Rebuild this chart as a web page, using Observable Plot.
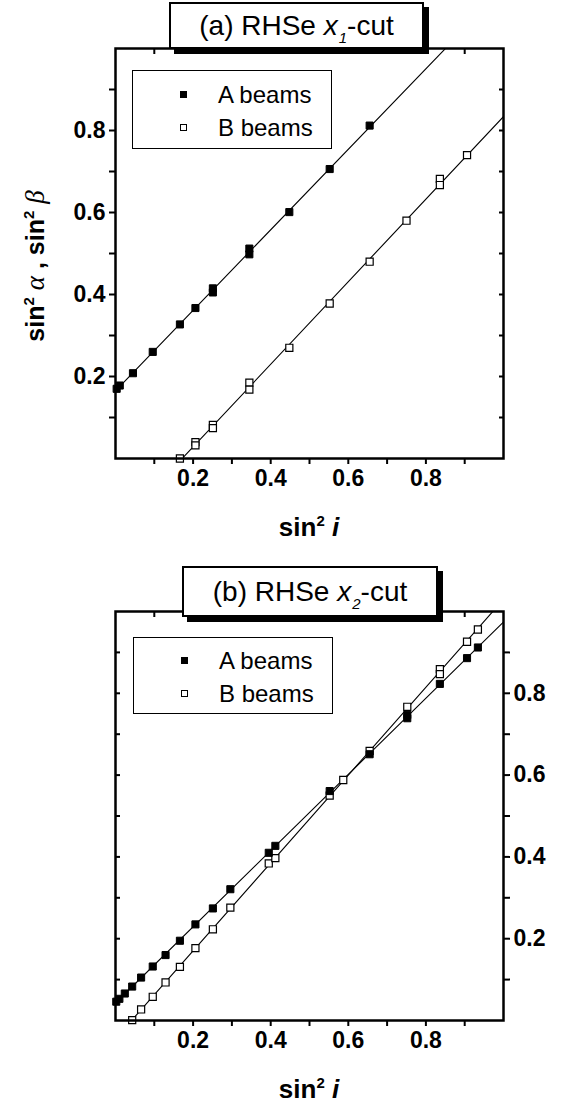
<!DOCTYPE html>
<html><head><meta charset="utf-8">
<script src="https://cdn.jsdelivr.net/npm/d3@7"></script>
<script src="https://cdn.jsdelivr.net/npm/@observablehq/plot@0.6"></script>
<style>
body{margin:0;background:#fff;}
#wrap{position:relative;width:569px;height:1104px;font-family:"Liberation Sans",Arial,sans-serif;color:#000;overflow:hidden;background:#fff}
.svgbox{position:absolute;left:0}
.title{position:absolute;background:#fff;border:2px solid #000;box-shadow:5px 5px 0 #000;font-size:28px;display:flex;align-items:center;justify-content:center;box-sizing:border-box;white-space:nowrap}
.title sub{font-size:15px;font-style:italic;vertical-align:-8px;line-height:0;margin-left:1px}
.legend{position:absolute;background:#fff;border:1.5px solid #000;box-sizing:border-box;font-size:24px}
.legend .row{position:absolute;left:0;right:0;height:30px;line-height:30px}
.legend .sym{position:absolute;left:47px;top:11px;width:7px;height:7px;box-sizing:border-box;border:1px solid #000}
.legend .txt{position:absolute;left:85px;top:0}
.ylab{position:absolute;font-size:25px;font-weight:bold;white-space:nowrap;transform:translate(-50%,-50%) rotate(-90deg)}
.ylab .g{font-family:"Liberation Serif","DejaVu Serif",serif;font-style:italic;font-weight:normal;font-size:27px}
.xlab{position:absolute;font-size:26px;font-weight:bold;white-space:nowrap;transform:translate(-50%,-50%)}
sup{font-size:15px;vertical-align:10px;line-height:0}
</style></head>
<body>
<div id="wrap">
  <div class="svgbox" id="pa" style="top:0"></div>
  <div class="svgbox" id="pb" style="top:540px"></div>

  <div class="title" style="left:169px;top:2px;width:255px;height:47px;"><span>(a) RHSe <i>x</i><sub>1</sub>-cut</span></div>
  <div class="legend" style="left:132px;top:70px;width:200px;height:79px;">
    <div class="row" style="top:9px"><div class="sym" style="background:#000"></div><div class="txt">A beams</div></div>
    <div class="row" style="top:42px"><div class="sym" style="background:#fff"></div><div class="txt">B beams</div></div>
  </div>
  <div class="ylab" style="left:35px;top:266px;">sin<sup>2</sup> <span class="g">α</span> , sin<sup>2</sup> <span class="g">β</span></div>
  <div class="xlab" style="left:309px;top:527px;">sin<sup>2</sup> <i>i</i></div>

  <div class="title" style="left:182px;top:566px;width:256px;height:51px;"><span>(b) RHSe <i>x</i><sub>2</sub>-cut</span></div>
  <div class="legend" style="left:133px;top:637px;width:200px;height:77px;">
    <div class="row" style="top:8px"><div class="sym" style="background:#000"></div><div class="txt">A beams</div></div>
    <div class="row" style="top:41px"><div class="sym" style="background:#fff"></div><div class="txt">B beams</div></div>
  </div>
  <div class="xlab" style="left:309px;top:1089px;">sin<sup>2</sup> <i>i</i></div>
</div>
<script>
// ---- data ----
const allTicks = [0.1,0.2,0.3,0.4,0.5,0.6,0.7,0.8,0.9];
const labelTicks = [0.2,0.4,0.6,0.8];

// Panel (a): RHSe x1-cut
const aA_x = [0.003,0.011,0.045,0.096,0.166,0.206,0.251,0.251,0.345,0.345,0.448,0.552,0.655];
const aA_y = [0.170,0.178,0.208,0.260,0.327,0.367,0.405,0.415,0.498,0.512,0.601,0.706,0.812];
const aB_x = [0.166,0.206,0.206,0.251,0.251,0.345,0.345,0.448,0.552,0.655,0.750,0.836,0.836,0.906];
const aB_y = [0.000,0.040,0.032,0.082,0.074,0.185,0.168,0.270,0.378,0.480,0.580,0.682,0.667,0.740];

// Panel (b): RHSe x2-cut
const bA_x = [0.002,0.010,0.024,0.043,0.066,0.096,0.129,0.166,0.206,0.251,0.296,0.395,0.412,0.552,0.655,0.752,0.752,0.836,0.906,0.934];
const bA_y = [0.046,0.053,0.066,0.083,0.105,0.132,0.160,0.195,0.235,0.274,0.321,0.410,0.427,0.561,0.651,0.739,0.747,0.823,0.886,0.912];
const bB_x = [0.043,0.066,0.096,0.129,0.166,0.206,0.251,0.296,0.395,0.412,0.552,0.587,0.655,0.752,0.836,0.836,0.906,0.934];
const bB_y = [0.001,0.027,0.058,0.093,0.131,0.177,0.223,0.276,0.384,0.397,0.550,0.588,0.659,0.767,0.859,0.847,0.926,0.956];

const domain = [0,1];

function pts(xs, ys){ return xs.map((x,i)=>({x, y: ys[i]})); }
function fitLine(xs, ys){
  const mx = d3.mean(xs), my = d3.mean(ys);
  let sxy=0, sxx=0;
  xs.forEach((x,i)=>{ sxy += (x-mx)*(ys[i]-my); sxx += (x-mx)*(x-mx); });
  const b = sxy/sxx, a = my - b*mx;
  return domain.map(x => ({x, y: a + b*x}));
}
const font = '"Liberation Sans", Arial, sans-serif';

function panel(A, B, lineA, lineB, labelSide, opts){
  const other = labelSide === "left" ? "right" : "left";
  return Plot.plot({
    width: 569, height: opts.height,
    marginLeft: 115, marginRight: 66, marginTop: opts.top, marginBottom: opts.bottom,
    x: {domain}, y: {domain},
    style: {fontFamily: font, color: "#000", background: "transparent", overflow: "visible"},
    marks: [
      Plot.line(lineA, {x:"x", y:"y", stroke:"#000", strokeWidth:1.1, clip:true}),
      Plot.line(lineB, {x:"x", y:"y", stroke:"#000", strokeWidth:1.1, clip:true}),
      Plot.dot(B, {x:"x", y:"y", symbol:"square", r:4, fill:"#fff", stroke:"#000", strokeWidth:1.2}),
      Plot.dot(A, {x:"x", y:"y", symbol:"square", r:4, fill:"#000", stroke:"#000", strokeWidth:1}),
      Plot.frame({stroke:"#000", strokeWidth:2.5}),
      Plot.axisX({anchor:"bottom", ticks: allTicks, tickSize:6, strokeWidth:2,
        tickPadding:5, tickFormat: d => labelTicks.includes(d) ? d.toFixed(1) : "",
        fontSize:23, fontWeight:"bold", label:null}),
      Plot.axisX({anchor:"top", ticks: allTicks, tickSize:-5, strokeWidth:2, tickFormat: () => "", label:null}),
      Plot.axisY({anchor:labelSide, ticks: allTicks, tickSize:6, strokeWidth:2,
        tickPadding:4, tickFormat: d => labelTicks.includes(d) ? d.toFixed(1) : "",
        fontSize:23, fontWeight:"bold", label:null}),
      Plot.axisY({anchor:other, ticks: allTicks, tickSize:-5, strokeWidth:2, tickFormat: () => "", label:null})
    ]
  });
}

document.getElementById("pa").appendChild(
  panel(pts(aA_x,aA_y), pts(aB_x,aB_y), fitLine(aA_x,aA_y), fitLine(aB_x,aB_y), "left", {height:538, top:48, bottom:80})
);
document.getElementById("pb").appendChild(
  panel(pts(bA_x,bA_y), pts(bB_x,bB_y), fitLine(bA_x,bA_y), fitLine(bB_x,bB_y), "right", {height:564, top:71, bottom:84})
);
</script>
</body></html>
